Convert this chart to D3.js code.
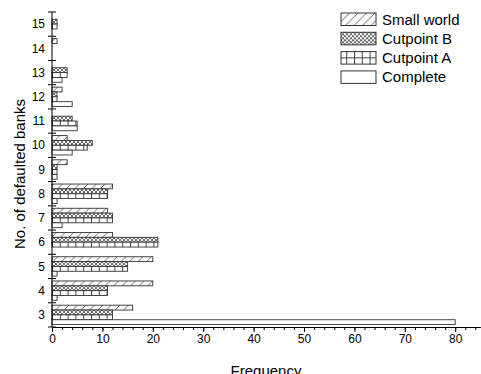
<!DOCTYPE html>
<html lang="en">
  <head>
    <meta charset="utf-8">
    <title>defaulted banks frequency</title>
    <script src="https://d3js.org/d3.v7.min.js"></script>
    <style>
      body { margin: 0; background: #fff; }
      svg { display: block; font-family: "Liberation Sans", Arial, sans-serif; }
      .ticklab { font-size: 12px; fill: #000; }
      .label { font-size: 15px; fill: #000; }
      .legend text { font-size: 15px; fill: #000; }
    </style>
  </head>
  <body>
    <script>

    // number of defaulted banks (y categories)
    var banks = [3, 4, 5, 6, 7, 8, 9, 10, 11, 12, 13, 14, 15];

    var seriesNames = ["Small world", "Cutpoint B", "Cutpoint A", "Complete"];

    var smallWorld = [16, 20, 20, 12, 11, 12, 3, 3, 0, 2, 0, 1, 0];
    var cutpointB  = [12, 11, 15, 21, 12, 11, 1, 8, 4, 1, 3, 0, 1];
    var cutpointA  = [12, 11, 15, 21, 12, 11, 1, 7, 5, 1, 3, 0, 1];
    var complete   = [80, 1, 1, 0, 2, 1, 1, 4, 5, 4, 2, 0, 0];

    var xTicks = [0, 10, 20, 30, 40, 50, 60, 70, 80];

    var W = 481, H = 374;
    // note: "top" is reserved on window, so plotTop
    var plotLeft = 52, plotRight = 480.4, plotTop = 12, plotBottom = 327;

    var allSeries = [smallWorld, cutpointB, cutpointA, complete];
    var fills = ["url(#diag)", "url(#cross)", "url(#grid)", "#fff"];

    var svg = d3.select("body").append("svg")
                .attr("width", W)
                .attr("height", H);

    // hatch patterns
    var defs = svg.append("defs");

    var p1 = defs.append("pattern").attr("id", "diag")
                 .attr("patternUnits", "userSpaceOnUse")
                 .attr("width", 8.5).attr("height", 8.5);
    p1.append("rect").attr("width", 8.5).attr("height", 8.5).attr("fill", "#fff");
    p1.append("path").attr("d", "M0,8.5 L8.5,0 M-2,2 L2,-2 M6.5,10.5 L10.5,6.5")
      .attr("stroke", "#555").attr("stroke-width", 0.9);

    var p2 = defs.append("pattern").attr("id", "cross")
                 .attr("patternUnits", "userSpaceOnUse")
                 .attr("width", 4).attr("height", 4);
    p2.append("rect").attr("width", 4).attr("height", 4).attr("fill", "#fff");
    p2.append("path").attr("d", "M0,4 L4,0 M0,0 L4,4 M-1,1 L1,-1 M3,5 L5,3 M-1,3 L1,5 M3,-1 L5,1")
      .attr("stroke", "#444").attr("stroke-width", 0.8);

    var p3 = defs.append("pattern").attr("id", "grid")
                 .attr("patternUnits", "userSpaceOnUse")
                 .attr("x", plotLeft).attr("width", 7.8).attr("height", 40);
    p3.append("rect").attr("width", 7.8).attr("height", 40).attr("fill", "#fff");
    p3.append("path").attr("d", "M0.5,0 L0.5,40").attr("stroke", "#444").attr("stroke-width", 1);

    var x = d3.scaleLinear().domain([0, 85]).range([plotLeft, plotRight]);

    var y = d3.scaleBand()
              .domain(banks)
              .range([plotBottom, plotTop]);

    var ySub = d3.scaleBand()
                 .domain(seriesNames)
                 .range([0, y.bandwidth()])
                 .paddingOuter(0.5);

    // bars
    var rows = [];
    banks.forEach(function(b, i) {
      seriesNames.forEach(function(s, j) {
        rows.push({bank: b, series: s, value: allSeries[j][i], fill: fills[j]});
      });
    });

    svg.append("g").selectAll("rect")
       .data(rows.filter(function(d) { return d.value > 0; }))
       .enter().append("rect")
       .attr("x", x(0))
       .attr("y", function(d) { return y(d.bank) + ySub(d.series); })
       .attr("width", function(d) { return x(d.value) - x(0); })
       .attr("height", ySub.bandwidth())
       .attr("fill", function(d) { return d.fill; })
       .attr("stroke", "#333")
       .attr("stroke-width", 0.9);

    // x axis: minor ticks every 2, major every 10
    svg.append("g")
       .attr("transform", "translate(0," + plotBottom + ")")
       .call(d3.axisBottom(x).tickValues(d3.range(0, 86, 2)).tickSize(3).tickSizeOuter(0).tickFormat(""))
       .call(function(g) { g.selectAll("line, path").attr("stroke", "#000"); });

    svg.append("g")
       .attr("transform", "translate(0," + plotBottom + ")")
       .call(d3.axisBottom(x).tickValues(xTicks).tickSize(5).tickPadding(2).tickSizeOuter(0))
       .call(function(g) {
         g.attr("font-family", null).attr("font-size", null);
         g.select(".domain").remove();
         g.selectAll("line").attr("stroke", "#000");
         g.selectAll("text").attr("class", "ticklab");
       });

    // y axis: line, crossing ticks at band edges, labels at band centres
    var yAx = svg.append("g");
    yAx.append("line")
       .attr("x1", plotLeft).attr("x2", plotLeft)
       .attr("y1", plotTop).attr("y2", plotBottom)
       .attr("stroke", "#000");

    var edges = banks.map(function(b) { return y(b); }).concat([plotBottom]);
    yAx.selectAll(".edge")
       .data(edges)
       .enter().append("line")
       .attr("class", "edge")
       .attr("x1", plotLeft - 4).attr("x2", plotLeft + 4)
       .attr("y1", function(d) { return d; })
       .attr("y2", function(d) { return d; })
       .attr("stroke", "#000");

    yAx.selectAll("text")
       .data(banks)
       .enter().append("text")
       .attr("class", "ticklab")
       .attr("x", plotLeft - 7)
       .attr("y", function(d) { return y(d) + y.bandwidth() / 2; })
       .attr("dy", "0.35em")
       .attr("text-anchor", "end")
       .text(function(d) { return d; });

    // axis titles
    svg.append("text")
       .attr("class", "label")
       .attr("text-anchor", "middle")
       .attr("x", 266)
       .attr("y", 376)
       .text("Frequency");

    svg.append("text")
       .attr("class", "label")
       .attr("text-anchor", "middle")
       .attr("transform", "translate(25,174) rotate(-90)")
       .text("No. of defaulted banks");

    // legend
    var legend = svg.append("g").attr("class", "legend")
                    .attr("transform", "translate(341,13)");

    var item = legend.selectAll("g")
                     .data(seriesNames)
                     .enter().append("g")
                     .attr("transform", function(d, i) { return "translate(0," + (i * 19.3) + ")"; });

    item.append("rect")
        .attr("width", 35).attr("height", 12.5)
        .attr("fill", function(d, i) { return fills[i]; })
        .attr("stroke", "#333");

    // the legend grid swatch also shows its middle line
    legend.append("line")
          .attr("x1", 0).attr("x2", 35)
          .attr("y1", 2 * 19.3 + 6.25).attr("y2", 2 * 19.3 + 6.25)
          .attr("stroke", "#444");

    item.append("text")
        .attr("x", 41)
        .attr("y", 6.25)
        .attr("dy", "0.35em")
        .text(function(d) { return d; });

    </script>
  </body>
</html>
